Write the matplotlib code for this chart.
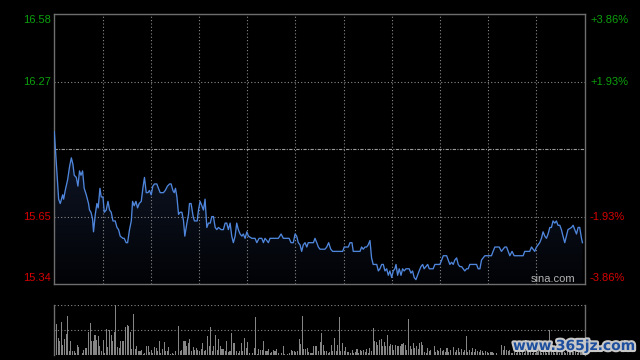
import numpy as np
import matplotlib
matplotlib.use("Agg")
import matplotlib.pyplot as plt
from matplotlib.colors import LinearSegmentedColormap
from matplotlib.patches import PathPatch
import matplotlib.patheffects as pe

# intraday minute line (minutes since open, price)
t = [0, 2.7, 3.7, 5.2, 5.8, 6.8, 8.3, 9.5, 10.6, 11.6, 12.4, 13.7, 14.7, 15.7, 16.6, 17.6, 18.6, 19.9,
     21.3, 21.9, 22.8, 23.8, 24.4, 25.5, 26.5, 27.3, 28.4, 29.2, 30.3, 31.1, 32.3, 33.4, 34.4, 35.4,
     36.5, 37.9, 39.0, 40.0, 41.0, 42.7, 43.5, 44.7, 45.6, 46.8, 47.9, 48.7, 49.7, 50.8, 51.8, 52.8,
     54.1, 55.1, 56.1, 57.2, 58.2, 59.2, 60.3, 61.3, 62.3, 63.8, 64.8, 65.9, 67.9, 69.0, 70.4, 71.7,
     72.7, 73.8, 74.6, 75.4, 76.3, 77.3, 78.3, 79.4, 80.4, 81.2, 82.5, 83.5, 84.1, 85.1, 86.4, 87.2,
     88.9, 89.7, 90.7, 91.8, 92.8, 93.8, 94.9, 95.9, 97.0, 98.0, 99.0, 100.1, 101.1, 102.1, 103.8,
     105.2, 106.3, 107.3, 108.3, 109.4, 110.4, 111.4, 112.5, 113.5, 114.5, 115.6, 116.7, 117.6, 118.7,
     119.8, 120.8, 122.9, 124.9, 126.0, 127.4, 129.1, 130.1, 131.1, 132.2, 133.2, 134.2, 136.3, 137.4,
     139.4, 141.1, 142.5, 146.1, 147.3, 148.7, 149.8, 150.8, 151.8, 152.9, 153.9, 154.9, 156.0, 157.1,
     158.0, 161.2, 162.2, 163.3, 164.3, 165.3, 168.4, 169.5, 170.7, 172.0, 173.2, 179.4, 180.4, 182.9,
     184.0, 185.2, 186.0, 190.2, 191.2, 192.2, 193.3, 194.3, 195.3, 196.4, 197.4, 198.4, 199.5, 200.6,
     201.6, 202.6, 203.7, 204.7, 205.7, 206.8, 207.8, 208.8, 209.9, 210.9, 211.9, 212.6, 213.6, 214.6,
     215.7, 216.7, 217.7, 218.8, 219.8, 220.8, 221.9, 222.9, 223.9, 225.0, 226.0, 227.0, 228.1, 229.2,
     230.1, 231.2, 232.3, 233.3, 235.7, 236.8, 237.8, 238.8, 239.9, 241.0, 242.0, 243.0, 244.1, 245.1,
     246.1, 247.2, 248.2, 249.2, 250.3, 251.3, 252.3, 253.4, 254.4, 255.4, 256.5, 257.5, 258.5, 262.7,
     263.7, 264.8, 265.8, 266.8, 267.9, 272.0, 273.0, 274.1, 276.8, 278.2, 279.2, 280.3, 281.4, 282.4,
     283.4, 284.8, 286.1, 291.7, 292.7, 295.8, 296.9, 297.9, 298.9, 300.0, 301.0, 302.0, 303.1, 304.1,
     305.2, 306.2, 307.2, 308.3, 309.3, 310.3, 311.4, 312.4, 313.4, 314.5, 315.5, 316.5, 317.6, 318.6,
     319.6, 321.8, 322.8, 323.8, 324.9, 325.9, 326.9, 328.0, 328.6]
price = [16.04, 15.73, 15.71, 15.75, 15.73, 15.77, 15.82, 15.88, 15.92, 15.89, 15.84, 15.83, 15.79, 15.86,
         15.84, 15.86, 15.78, 15.75, 15.71, 15.68, 15.67, 15.64, 15.58, 15.66, 15.71, 15.69, 15.78, 15.74,
         15.74, 15.67, 15.68, 15.72, 15.68, 15.67, 15.63, 15.63, 15.60, 15.59, 15.56, 15.55, 15.55, 15.53,
         15.53, 15.59, 15.63, 15.72, 15.70, 15.72, 15.69, 15.71, 15.72, 15.78, 15.83, 15.76, 15.76, 15.77,
         15.75, 15.79, 15.80, 15.80, 15.78, 15.76, 15.76, 15.77, 15.79, 15.80, 15.80, 15.77, 15.76, 15.78,
         15.74, 15.66, 15.67, 15.67, 15.63, 15.56, 15.62, 15.66, 15.71, 15.71, 15.65, 15.63, 15.63, 15.68,
         15.72, 15.70, 15.68, 15.73, 15.60, 15.62, 15.62, 15.65, 15.65, 15.60, 15.59, 15.60, 15.59, 15.59,
         15.62, 15.62, 15.59, 15.62, 15.56, 15.53, 15.56, 15.62, 15.59, 15.57, 15.56, 15.57, 15.55, 15.58,
         15.56, 15.55, 15.55, 15.53, 15.55, 15.55, 15.53, 15.55, 15.54, 15.53, 15.55, 15.55, 15.55, 15.55,
         15.57, 15.55, 15.55, 15.53, 15.53, 15.57, 15.56, 15.53, 15.52, 15.49, 15.52, 15.53, 15.51, 15.53,
         15.53, 15.55, 15.53, 15.51, 15.50, 15.50, 15.51, 15.53, 15.50, 15.49, 15.49, 15.51, 15.51, 15.53,
         15.53, 15.49, 15.49, 15.51, 15.50, 15.51, 15.51, 15.52, 15.54, 15.46, 15.43, 15.43, 15.43, 15.40,
         15.41, 15.43, 15.43, 15.40, 15.41, 15.38, 15.40, 15.37, 15.40, 15.41, 15.43, 15.38, 15.41, 15.38,
         15.41, 15.40, 15.41, 15.41, 15.41, 15.39, 15.40, 15.37, 15.36, 15.38, 15.40, 15.42, 15.43, 15.41,
         15.42, 15.43, 15.41, 15.41, 15.43, 15.43, 15.43, 15.43, 15.45, 15.47, 15.47, 15.47, 15.45, 15.43,
         15.44, 15.43, 15.45, 15.46, 15.43, 15.42, 15.42, 15.41, 15.40, 15.41, 15.41, 15.43, 15.43, 15.41,
         15.41, 15.45, 15.46, 15.47, 15.47, 15.49, 15.51, 15.51, 15.49, 15.50, 15.51, 15.51, 15.49, 15.47,
         15.49, 15.47, 15.47, 15.49, 15.49, 15.51, 15.50, 15.49, 15.51, 15.52, 15.53, 15.55, 15.58, 15.56,
         15.55, 15.57, 15.60, 15.60, 15.63, 15.62, 15.63, 15.61, 15.61, 15.59, 15.56, 15.53, 15.56, 15.59,
         15.60, 15.61, 15.59, 15.57, 15.60, 15.60, 15.55, 15.53]

# volume per minute (relative units)
vol = [60, 62, 33, 27, 65, 20, 31, 42, 78, 7, 27, 7, 7, 3, 20, 15, 0,
       3, 9, 13, 13, 45, 63, 28, 28, 40, 29, 38, 18, 7, 29, 3, 52, 15, 49, 40, 27, 45, 100, 15, 13,
       28, 27, 27, 55, 60, 57, 45, 11, 82, 11, 18, 7, 8, 10, 2, 3, 18, 17, 5, 10, 3, 15, 13, 7, 28,
       3, 11, 25, 7, 7, 15, 2, 3, 1, 7, 0,
       57, 7, 9, 28, 27, 17, 23, 31, 7, 15, 9, 13, 9, 7, 12, 23, 7, 10, 37, 17, 55, 7, 18, 40, 9,
       31, 18, 11, 11, 7, 27, 5, 7, 43, 23, 23, 7, 3, 7, 23, 7, 33, 13, 25, 3, 0,
       3, 13, 75, 1, 11, 10, 9, 27, 7, 7, 11, 3, 5, 10, 7, 11, 3, 0,
       3, 18, 2, 0,
       2, 3, 9, 7, 7, 5, 7, 31, 22, 77, 11, 11, 13, 5, 3, 3, 18, 17, 18, 7,
       26, 43, 20, 7, 7, 3, 5, 20, 7, 33, 7, 20, 76, 7, 23, 7, 15, 5, 5, 3, 10, 3, 5, 11, 3, 10, 7,
       10, 5, 11, 3, 13, 7, 53, 28, 26, 20, 30, 31, 18, 25, 17, 40, 17, 21, 20, 9, 20, 18, 18, 17,
       22, 23, 20, 9, 71, 18, 11, 23, 13, 17, 11, 23, 25, 20, 5, 3, 13, 7, 9, 0,
       18, 5, 9, 7, 13, 7, 10, 5, 13, 5, 10, 0,
       15, 5, 9, 13, 5, 11, 5, 9, 38, 5, 10, 5, 13, 5, 11, 7, 5, 10, 7, 3, 7, 5, 3, 5, 5, 3, 0,
       3, 0, 0,
       20, 10, 18, 10, 7, 9, 3, 3,
       5, 3, 8, 12, 4, 6, 3, 10, 15, 5, 7, 3, 9, 4, 6, 12, 5, 3, 8, 10, 4, 7,
       50,
       6, 9, 4, 12, 5, 3, 8, 14, 6, 4, 10, 5, 7, 18, 6, 9, 4, 12, 8, 15, 10]

prev_close = 15.96
y_lo, y_hi = 15.34, 16.58
left_labels = ["16.58", "16.27", "15.65", "15.34"]
right_labels = ["+3.86%", "+1.93%", "-1.93%", "-3.86%"]
label_colors = ["#0ca00c", "#0ca00c", "#d60000", "#d60000"]

plt.rcParams['font.family'] = ['Liberation Sans', 'DejaVu Sans']

fig = plt.figure(figsize=(6.4, 3.6), dpi=100, facecolor="black")
ax = fig.add_axes([54.3/640, 1-284/360, 530.4/640, 269.7/360], facecolor="black")
axv = fig.add_axes([54.3/640, 1-355/360, 530.4/640, 50.3/360], facecolor="black")

# gradient fill under the price line
poly = ax.fill_between(t, price, y_lo, color="none", lw=0)
patch = PathPatch(poly.get_paths()[0], facecolor="none", edgecolor="none", transform=ax.transData)
ax.add_patch(patch)
cmap = LinearSegmentedColormap.from_list("fill", ["#020306", "#1a2846"])
grad = np.linspace(0, 1, 256).reshape(-1, 1)
img = ax.imshow(grad, extent=[0, 330, y_lo, y_hi], origin="lower", aspect="auto", cmap=cmap, zorder=1)
img.set_clip_path(patch)

ax.plot(t, price, color="#4f86dc", lw=0.95, zorder=3)

for x in range(30, 330, 30):
    ax.axvline(x, color="#8a8a8a", lw=0.8, ls=(0, (1, 2)), zorder=2)
for y in [16.27, 15.65]:
    ax.axhline(y, color="#8a8a8a", lw=0.8, ls=(0, (1, 2)), zorder=2)
ax.axhline(prev_close, color="#9a9a9a", lw=0.8, ls=(0, (3, 1.2, 1, 1.2)), zorder=2)

ax.set_xlim(0, 330)
ax.set_ylim(y_lo, y_hi)
ax.set_xticks([])
ax.set_yticks([])
for s in ax.spines.values():
    s.set_color("#6e6e6e")
    s.set_linewidth(1.0)

ax.text(0.982, 0.019, "sina.com", transform=ax.transAxes, ha="right", va="center",
        color="#b4b4b4", fontsize=8, zorder=4)

# volume panel
axv.bar(np.arange(len(vol)), vol, width=0.65, align="edge", color="#858585", lw=0)
for y in [0, 50, 100]:
    axv.axhline(y, color="#8a8a8a", lw=0.8, ls=(0, (1, 2)))
axv.set_xlim(0, 330)
axv.set_ylim(0, 100)
axv.set_xticks([])
axv.set_yticks([])
axv.spines["top"].set_visible(False)
axv.spines["bottom"].set_visible(False)
for s in ["left", "right"]:
    axv.spines[s].set_color("#6e6e6e")
    axv.spines[s].set_linewidth(1.0)

# axis labels
label_y = [20, 82, 217, 278]
for yy, l, r, c in zip(label_y, left_labels, right_labels, label_colors):
    fig.text(51/640, 1-yy/360, l, ha="right", va="center", color=c, fontsize=8)
    fig.text(590/640, 1-yy/360, r, ha="left", va="center", color=c, fontsize=8)

fig.text(574/640, 1-346/360, "www.365jz.com", ha="center", va="center", color="#1d4f9e",
         fontsize=10, fontweight="bold", family="DejaVu Sans",
         path_effects=[pe.withStroke(linewidth=3, foreground="#c8c8c8")])

fig.savefig("out.png", dpi=100, facecolor="black")
